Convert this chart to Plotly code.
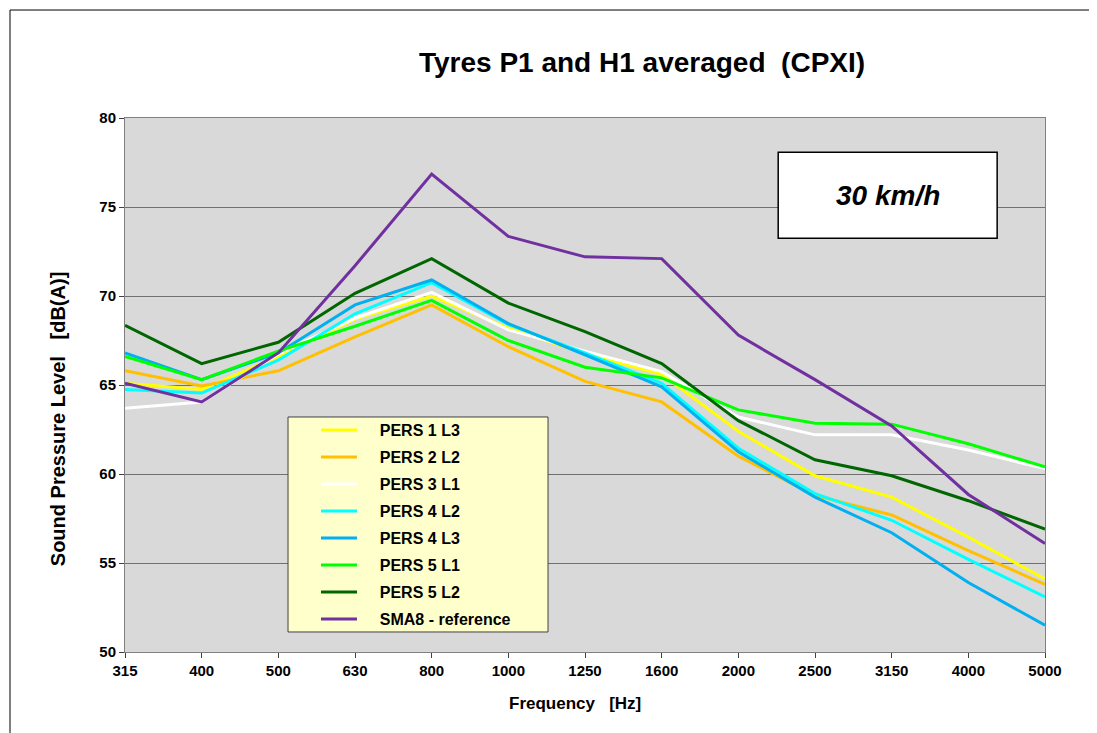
import plotly.graph_objects as go

freqs = ["315", "400", "500", "630", "800", "1000", "1250", "1600", "2000", "2500", "3150", "4000", "5000"]

pers1_l3 = [65.1, 64.75, 66.6, 68.7, 70.0, 68.2, 66.75, 65.6, 62.4, 59.9, 58.7, 56.45, 54.1]
pers2_l2 = [65.8, 64.95, 65.8, 67.7, 69.5, 67.15, 65.2, 64.05, 61.0, 58.8, 57.7, 55.7, 53.8]
pers3_l1 = [63.7, 64.05, 66.75, 68.75, 70.2, 68.1, 66.9, 65.75, 63.2, 62.2, 62.2, 61.35, 60.3]
pers4_l2 = [64.75, 64.55, 66.4, 69.0, 70.75, 68.4, 66.8, 65.1, 61.45, 58.9, 57.4, 55.2, 53.1]
pers4_l3 = [66.8, 65.3, 66.8, 69.5, 70.9, 68.45, 66.7, 64.9, 61.25, 58.7, 56.7, 53.9, 51.5]
pers5_l1 = [66.6, 65.3, 66.9, 68.3, 69.75, 67.5, 66.0, 65.4, 63.6, 62.85, 62.8, 61.7, 60.4]
pers5_l2 = [68.35, 66.2, 67.4, 70.15, 72.1, 69.6, 68.0, 66.2, 63.0, 60.8, 59.9, 58.5, 56.9]
sma8_ref = [65.1, 64.05, 66.8, 71.7, 76.85, 73.35, 72.2, 72.1, 67.8, 65.3, 62.7, 58.85, 56.1]

series = [
    ("PERS 1 L3", pers1_l3, "#FFFF00"),
    ("PERS 2 L2", pers2_l2, "#FFC000"),
    ("PERS 3 L1", pers3_l1, "#FFFFFF"),
    ("PERS 4 L2", pers4_l2, "#00FFFF"),
    ("PERS 4 L3", pers4_l3, "#00B0F0"),
    ("PERS 5 L1", pers5_l1, "#00FF00"),
    ("PERS 5 L2", pers5_l2, "#006600"),
    ("SMA8 - reference", sma8_ref, "#7030A0"),
]

FONT = "Arial, Liberation Sans, sans-serif"
PAD = "\u00a0" * 4

fig = go.Figure()
for i, (name, vals, col) in enumerate(series):
    fig.add_trace(go.Scatter(
        x=freqs, y=vals, name=PAD + name, mode="lines",
        line=dict(color=col, width=3),
        legendgroup="g%d" % i,
    ))

fig.update_layout(
    width=1097, height=733,
    margin=dict(l=117, r=60, t=110, b=89),
    paper_bgcolor="white",
    plot_bgcolor="#D9D9D9",
    font=dict(family=FONT, color="black"),
    showlegend=True,
    legend=dict(
        x=0.2076, y=0.4476, xanchor="left", yanchor="top",
        bgcolor="rgba(0,0,0,0)", borderwidth=0,
        font=dict(family=FONT, size=16, color="black", weight="bold"),
        tracegroupgap=3.2,
        itemwidth=36,
    ),
    xaxis=dict(
        type="category", range=[0, 12],
        showgrid=False, zeroline=False,
        ticks="outside", ticklen=5, tickcolor="#404040",
        tickfont=dict(family=FONT, size=15, weight="bold"),
        showline=True, linecolor="#808080", linewidth=1, mirror=True,
    ),
    yaxis=dict(
        range=[50, 80], dtick=5,
        showgrid=True, gridcolor="#707070", gridwidth=1,
        zeroline=False,
        ticks="outside", ticklen=5, tickcolor="#404040",
        tickfont=dict(family=FONT, size=15, weight="bold"),
        showline=True, linecolor="#808080", linewidth=1, mirror=True,
    ),
    annotations=[
        dict(text="Tyres P1 and H1 averaged\u00a0\u00a0(CPXI)", xref="paper", yref="paper",
             x=0.562, y=1.103, xanchor="center", yanchor="middle", showarrow=False,
             font=dict(family=FONT, size=28, weight="bold", color="black")),
        dict(text="<i>30 km/h</i>", xref="paper", yref="paper",
             x=0.829, y=0.8555, xanchor="center", yanchor="middle", showarrow=False,
             font=dict(family=FONT, size=28, weight="bold", color="black")),
        dict(text="Frequency\u00a0\u00a0\u00a0[Hz]", xref="paper", yref="paper",
             x=0.489, y=-0.097, xanchor="center", yanchor="middle", showarrow=False,
             font=dict(family=FONT, size=17, weight="bold", color="black")),
        dict(text="Sound Pressure Level\u00a0\u00a0\u00a0[dB(A)]", xref="paper", yref="paper",
             x=-0.0728, y=0.436, xanchor="center", yanchor="middle", showarrow=False,
             textangle=-90,
             font=dict(family=FONT, size=20, weight="bold", color="black")),
    ],
    shapes=[
        dict(type="rect", xref="paper", yref="paper", x0=0.710, x1=0.948, y0=0.775, y1=0.936,
             fillcolor="white", line=dict(color="black", width=1.5), layer="above"),
        dict(type="rect", xref="paper", yref="paper", x0=0.1772, x1=0.4598, y0=0.0375, y1=0.4401,
             fillcolor="#FFFFCC", line=dict(color="#404040", width=1), layer="above"),
        dict(type="rect", xref="paper", yref="paper",
             x0=-0.125, x1=1.051, y0=-0.165, y1=1.2022,
             line=dict(color="black", width=1), fillcolor="rgba(0,0,0,0)", layer="below"),
    ],
)

fig.write_html("out.html")
